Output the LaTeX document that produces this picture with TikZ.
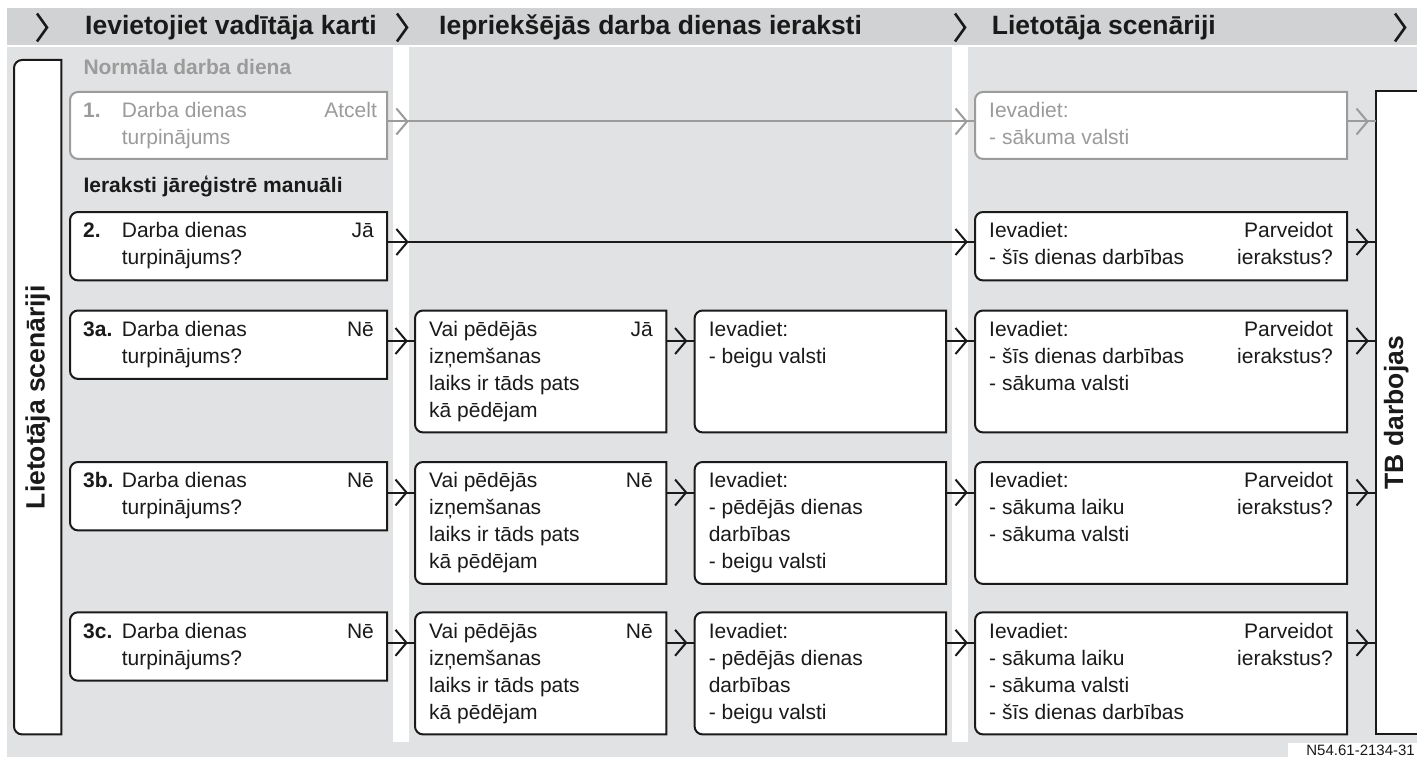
\documentclass[tikz,border=0pt]{standalone}
\usepackage{fontspec}
\setmainfont{Liberation Sans}
\usetikzlibrary{decorations.markings}
\definecolor{hdrgray}{HTML}{D1D2D4}
\definecolor{bggray}{HTML}{E1E2E4}
\definecolor{lightline}{HTML}{9B9B9B}
\definecolor{ink}{HTML}{1A1A1A}
\newcommand\mystrut{\rule{0pt}{19pt}}
\newcommand\chevtip{\draw[line width=2pt, line cap=butt, line join=miter] (-11pt,13pt) -- (0pt,0pt) -- (-11pt,-13pt);}
\newcommand\roundleft[2]{%
  \filldraw[#2] ([xshift=8pt]#1.north west) -- (#1.north east) -- (#1.south east) -- ([xshift=8pt]#1.south west)
    arc[start angle=270,end angle=180,radius=8pt] -- ([yshift=-8pt]#1.north west)
    arc[start angle=180,end angle=90,radius=8pt] -- cycle;}
\tikzset{
  frame/.style={rectangle, draw=none, inner sep=0pt, anchor=north west},
  boxline/.style={fill=white, draw=ink, line width=2pt},
  boxgray/.style={fill=white, draw=lightline, line width=2pt},
  body/.style={font=\fontsize{21pt}{27pt}\selectfont, inner sep=0pt, align=left, text=ink},
  bodyl/.style={body, anchor=north west},
  bodyr/.style={body, align=right, anchor=north east},
  hdr/.style={font=\fontsize{26.5pt}{30pt}\selectfont\bfseries, inner sep=0pt, text=ink, anchor=base west},
  sec/.style={font=\fontsize{21pt}{25pt}\selectfont\bfseries, inner sep=0pt, anchor=base west},
  vert/.style={font=\fontsize{26.5pt}{30pt}\selectfont\bfseries, rotate=90, inner sep=0pt, text=ink},
  hdrchev/.style={line width=2.6pt, color=ink, line join=miter},
  conn/.style={line width=2pt, color=ink},
  conng/.style={line width=2pt, color=lightline},
  chevend/.style={postaction={decorate,decoration={markings,mark=at position -8.5pt with {\chevtip}}}},
  chevtwo/.style={postaction={decorate,decoration={markings,mark=at position 20.3pt with {\chevtip},mark=at position -8.5pt with {\chevtip}}}},
}
\begin{document}
\begin{tikzpicture}[x=1pt,y=1pt]
\useasboundingbox (0,0) rectangle (1417,-757);
\clip (0,0) rectangle (1417,-757);
% backgrounds
\fill[white] (0,0) rectangle (1417,-757);
\fill[hdrgray] (7,-8) rectangle (1417,-45);
\fill[bggray] (7,-47) rectangle (1417,-757);
\fill[white] (393,-47) rectangle (409,-742);
\fill[white] (952,-47) rectangle (968,-742);
% header
\foreach \cx in {37,397,955,1395} \draw[hdrchev] (\cx,-13.5) -- (\cx+10,-27.5) -- (\cx,-41.5);
\node[hdr] (h1) at (85,-35) {Ievietojiet vadītāja karti};
\node[hdr] (h2) at (439,-35) {Iepriekšējās darba dienas ieraksti};
\node[hdr] (h3) at (991.7,-35) {Lietotāja scenāriji};
% section labels
\node[sec, text=lightline] (s1) at (83.3,-75) {Normāla darba diena};
\node[sec, text=ink] (s2) at (83.3,-193) {Ieraksti jāreģistrē manuāli};
% left side box
\node[frame, minimum width=47pt, minimum height=674pt] (ls) at (14,-60) {};
\roundleft{ls}{boxline}
\node[vert] (lst) at (ls.center) {Lietotāja scenāriji};
% right TB box
\node[frame, minimum width=60pt, minimum height=643pt] (tb) at (1376,-91) {};
\filldraw[boxline] (tb.north east) -- (tb.north west) -- (tb.south west) -- (tb.south east);
\node[vert] (tbt) at ([xshift=-10pt]tb.center) {TB darbojas};
% ---------- column 1 ----------
\node[frame, minimum width=316.7pt, minimum height=66.5pt] (c11) at (70,-92) {};
\node[frame, minimum width=316.7pt, minimum height=68pt] (c12) at (70,-212) {};
\node[frame, minimum width=316.7pt, minimum height=68pt] (c13a) at (70,-310.5) {};
\node[frame, minimum width=316.7pt, minimum height=68pt] (c13b) at (70,-462) {};
\node[frame, minimum width=316.7pt, minimum height=68pt] (c13c) at (70,-612.3) {};
% ---------- column 2 ----------
\node[frame, minimum width=251pt, minimum height=121.5pt] (c23a) at (415,-310.5) {};
\node[frame, minimum width=251pt, minimum height=121.5pt] (c23b) at (415,-462) {};
\node[frame, minimum width=251pt, minimum height=121.7pt] (c23c) at (415,-612.3) {};
% ---------- column 3 ----------
\node[frame, minimum width=251pt, minimum height=121.5pt] (c33a) at (694.6,-310.5) {};
\node[frame, minimum width=251pt, minimum height=121.5pt] (c33b) at (694.6,-462) {};
\node[frame, minimum width=251pt, minimum height=121.7pt] (c33c) at (694.6,-612.3) {};
% ---------- column 4 ----------
\node[frame, minimum width=371.7pt, minimum height=66.5pt] (c41) at (975,-92) {};
\node[frame, minimum width=371.7pt, minimum height=68pt] (c42) at (975,-212) {};
\node[frame, minimum width=371.7pt, minimum height=121.5pt] (c43a) at (975,-310.5) {};
\node[frame, minimum width=371.7pt, minimum height=121.5pt] (c43b) at (975,-462) {};
\node[frame, minimum width=371.7pt, minimum height=121.7pt] (c43c) at (975,-612.3) {};
% box outlines
\roundleft{c11}{boxgray}
\roundleft{c41}{boxgray}
\foreach \n in {c12,c13a,c13b,c13c,c23a,c23b,c23c,c33a,c33b,c33c,c42,c43a,c43b,c43c} {\roundleft{\n}{boxline}}
% ---------- connectors ----------
\draw[conng, chevtwo] ([yshift=-29.5pt]c11.north east) -- ([yshift=-29.5pt]c41.north west);
\draw[conng, chevend] ([yshift=-29.5pt]c41.north east) coordinate (p1) -- (p1 -| tb.west);
\draw[conn, chevtwo] ([yshift=-30pt]c12.north east) -- ([yshift=-30pt]c42.north west);
\draw[conn, chevend] ([yshift=-30pt]c42.north east) coordinate (p2) -- (p2 -| tb.west);
\foreach \r in {a,b,c} {
  \draw[conn, chevend] ([yshift=-30.5pt]c13\r.north east) -- ([yshift=-30.5pt]c23\r.north west);
  \draw[conn, chevend] ([yshift=-30.5pt]c23\r.north east) -- ([yshift=-30.5pt]c33\r.north west);
  \draw[conn, chevend] ([yshift=-30.5pt]c33\r.north east) -- ([yshift=-30.5pt]c43\r.north west);
  \draw[conn, chevend] ([yshift=-30.5pt]c43\r.north east) coordinate (q\r) -- (q\r -| tb.west);
}
% ---------- texts column 1 ----------
\node[bodyl, text=lightline] (c11n) at ([shift={(13pt,-6.5pt)}]c11.north west) {\mystrut\textbf{1.}};
\node[bodyl, text=lightline] (c11t) at ([shift={(51.7pt,-6.5pt)}]c11.north west) {\mystrut Darba dienas\\turpinājums};
\node[bodyr, text=lightline] (c11r) at ([shift={(-10pt,-6.5pt)}]c11.north east) {\mystrut Atcelt};
\node[bodyl] (c12n) at ([shift={(13pt,-6.5pt)}]c12.north west) {\mystrut\textbf{2.}};
\node[bodyl] (c12t) at ([shift={(51.7pt,-6.5pt)}]c12.north west) {\mystrut Darba dienas\\turpinājums?};
\node[bodyr] (c12r) at ([shift={(-13pt,-6.5pt)}]c12.north east) {\mystrut Jā};
\node[bodyl] (c13an) at ([shift={(13pt,-6.5pt)}]c13a.north west) {\mystrut\textbf{3a.}};
\node[bodyl] (c13at) at ([shift={(51.7pt,-6.5pt)}]c13a.north west) {\mystrut Darba dienas\\turpinājums?};
\node[bodyr] (c13ar) at ([shift={(-13pt,-6.5pt)}]c13a.north east) {\mystrut Nē};
\node[bodyl] (c13bn) at ([shift={(13pt,-6.5pt)}]c13b.north west) {\mystrut\textbf{3b.}};
\node[bodyl] (c13bt) at ([shift={(51.7pt,-6.5pt)}]c13b.north west) {\mystrut Darba dienas\\turpinājums?};
\node[bodyr] (c13br) at ([shift={(-13pt,-6.5pt)}]c13b.north east) {\mystrut Nē};
\node[bodyl] (c13cn) at ([shift={(13pt,-6.5pt)}]c13c.north west) {\mystrut\textbf{3c.}};
\node[bodyl] (c13ct) at ([shift={(51.7pt,-6.5pt)}]c13c.north west) {\mystrut Darba dienas\\turpinājums?};
\node[bodyr] (c13cr) at ([shift={(-13pt,-6.5pt)}]c13c.north east) {\mystrut Nē};
% ---------- texts column 2 ----------
\node[bodyl] (c23at) at ([shift={(14pt,-6.5pt)}]c23a.north west) {\mystrut Vai pēdējās\\izņemšanas\\laiks ir tāds pats\\kā pēdējam};
\node[bodyr] (c23ar) at ([shift={(-13.5pt,-6.5pt)}]c23a.north east) {\mystrut Jā};
\node[bodyl] (c23bt) at ([shift={(14pt,-6.5pt)}]c23b.north west) {\mystrut Vai pēdējās\\izņemšanas\\laiks ir tāds pats\\kā pēdējam};
\node[bodyr] (c23br) at ([shift={(-13.5pt,-6.5pt)}]c23b.north east) {\mystrut Nē};
\node[bodyl] (c23ct) at ([shift={(14pt,-6.5pt)}]c23c.north west) {\mystrut Vai pēdējās\\izņemšanas\\laiks ir tāds pats\\kā pēdējam};
\node[bodyr] (c23cr) at ([shift={(-13.5pt,-6.5pt)}]c23c.north east) {\mystrut Nē};
% ---------- texts column 3 ----------
\node[bodyl] (c33at) at ([shift={(14pt,-6.5pt)}]c33a.north west) {\mystrut Ievadiet:\\- beigu valsti};
\node[bodyl] (c33bt) at ([shift={(14pt,-6.5pt)}]c33b.north west) {\mystrut Ievadiet:\\- pēdējās dienas\\darbības\\- beigu valsti};
\node[bodyl] (c33ct) at ([shift={(14pt,-6.5pt)}]c33c.north west) {\mystrut Ievadiet:\\- pēdējās dienas\\darbības\\- beigu valsti};
% ---------- texts column 4 ----------
\node[bodyl, text=lightline] (c41t) at ([shift={(14pt,-6.5pt)}]c41.north west) {\mystrut Ievadiet:\\- sākuma valsti};
\node[bodyl] (c42t) at ([shift={(14pt,-6.5pt)}]c42.north west) {\mystrut Ievadiet:\\- šīs dienas darbības};
\node[bodyr] (c42r) at ([shift={(-14pt,-6.5pt)}]c42.north east) {\mystrut Parveidot\\ierakstus?};
\node[bodyl] (c43at) at ([shift={(14pt,-6.5pt)}]c43a.north west) {\mystrut Ievadiet:\\- šīs dienas darbības\\- sākuma valsti};
\node[bodyr] (c43ar) at ([shift={(-14pt,-6.5pt)}]c43a.north east) {\mystrut Parveidot\\ierakstus?};
\node[bodyl] (c43bt) at ([shift={(14pt,-6.5pt)}]c43b.north west) {\mystrut Ievadiet:\\- sākuma laiku\\- sākuma valsti};
\node[bodyr] (c43br) at ([shift={(-14pt,-6.5pt)}]c43b.north east) {\mystrut Parveidot\\ierakstus?};
\node[bodyl] (c43ct) at ([shift={(14pt,-6.5pt)}]c43c.north west) {\mystrut Ievadiet:\\- sākuma laiku\\- sākuma valsti\\- šīs dienas darbības};
\node[bodyr] (c43cr) at ([shift={(-14pt,-6.5pt)}]c43c.north east) {\mystrut Parveidot\\ierakstus?};
% code label
\fill[white] (1288,-743) rectangle (1417,-757);
\node[font=\fontsize{15pt}{15pt}\selectfont, text=ink, anchor=base east, inner sep=0pt] (code) at (1415,-755) {N54.61-2134-31};
\end{tikzpicture}
\end{document}
